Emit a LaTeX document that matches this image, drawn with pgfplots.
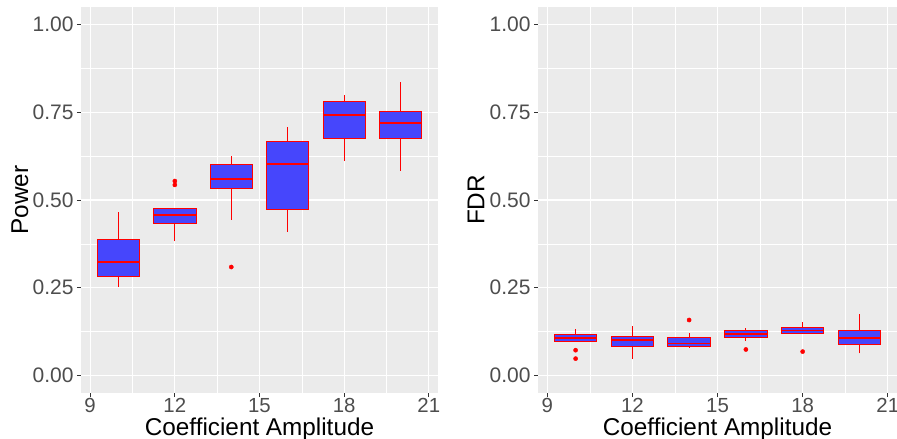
\documentclass[border=0pt]{standalone}
\usepackage{pgfplots}
\pgfplotsset{compat=1.18}
\usepackage{fontspec}
\setmainfont{Liberation Sans}
\definecolor{panelbg}{RGB}{235,235,235}
\definecolor{boxblue}{RGB}{70,70,252}
\definecolor{ticktxt}{RGB}{77,77,77}
\definecolor{tickcol}{RGB}{51,51,51}
\pgfplotsset{
  gg/.style={
    scale only axis, height=386bp,
    xmin=8.675, xmax=21.325, ymin=-0.05, ymax=1.05,
    axis background/.style={fill=panelbg},
    axis line style={draw=none},
    xtick={9,12,15,18,21}, minor xtick={10.5,13.5,16.5,19.5},
    ytick={0,0.25,0.5,0.75,1}, minor ytick={0.125,0.375,0.625,0.875},
    grid=both,
    major grid style={white, line width=1.1bp},
    minor grid style={white, line width=0.55bp},
    tick align=outside, xtick pos=bottom, ytick pos=left,
    major tick length=4bp, minor tick length=0pt,
    tick style={tickcol, line width=0.8bp},
    /pgf/number format/assume math mode=true,
    yticklabel style={font=\fontsize{21bp}{24bp}\selectfont, text=ticktxt,
      /pgf/number format/fixed, /pgf/number format/fixed zerofill, /pgf/number format/precision=2},
    xticklabel style={font=\fontsize{20.4bp}{24bp}\selectfont, text=ticktxt, yshift=2bp},
    label style={font=\fontsize{24.3bp}{28bp}\selectfont, text=black},
    xlabel style={at={(axis description cs:0.5,-0.109)}, anchor=base},
  },
}
% box: position, lower whisker, lower quartile, median, upper quartile, upper whisker
\newcommand{\bx}[6]{%
  \pgfmathsetmacro\xl{#1-0.75}\pgfmathsetmacro\xr{#1+0.75}%
  \addplot[red, line width=1.1bp] coordinates {(#1,#2) (#1,#3)};
  \addplot[red, line width=1.1bp] coordinates {(#1,#5) (#1,#6)};
  \addplot[draw=red, fill=boxblue, line width=0.9bp] coordinates {(\xl,#3) (\xr,#3) (\xr,#5) (\xl,#5)} -- cycle;
  \addplot[red, line width=1.9bp] coordinates {(\xl,#4) (\xr,#4)};
}
\newcommand{\outl}[1]{\addplot[only marks, mark=*, mark size=2.1bp, red, mark options={draw=red, fill=red}] coordinates {#1};}
\begin{document}
\begin{tikzpicture}
\useasboundingbox (0,0) rectangle (897bp,439bp);
\begin{axis}[gg, at={(81bp,46bp)}, anchor=south west, width=357bp,
  xlabel={Coefficient Amplitude}, ylabel={Power},
  ylabel style={at={(axis description cs:-0.171,0.5)}, anchor=center}]
\bx{10}{0.252}{0.282}{0.323}{0.387}{0.466}
\bx{12}{0.382}{0.433}{0.458}{0.475}{0.477}
\outl{(12,0.554) (12,0.543)}
\bx{14}{0.443}{0.533}{0.559}{0.600}{0.624}
\outl{(14,0.309)}
\bx{16}{0.409}{0.472}{0.602}{0.667}{0.708}
\bx{18}{0.611}{0.676}{0.742}{0.782}{0.799}
\bx{20}{0.584}{0.674}{0.720}{0.751}{0.837}
\end{axis}
\begin{axis}[gg, at={(538bp,46bp)}, anchor=south west, width=359bp,
  xlabel={Coefficient Amplitude}, ylabel={FDR},
  ylabel style={at={(axis description cs:-0.173,0.5)}, anchor=center}]
\bx{10}{0.097}{0.098}{0.108}{0.118}{0.132}
\outl{(10,0.072) (10,0.048)}
\bx{12}{0.048}{0.083}{0.101}{0.110}{0.140}
\bx{14}{0.079}{0.084}{0.091}{0.107}{0.120}
\outl{(14,0.158)}
\bx{16}{0.099}{0.108}{0.119}{0.128}{0.134}
\outl{(16,0.074)}
\bx{18}{0.119}{0.120}{0.128}{0.137}{0.151}
\outl{(18,0.068)}
\bx{20}{0.063}{0.088}{0.107}{0.128}{0.174}
\end{axis}
\end{tikzpicture}
\end{document}
